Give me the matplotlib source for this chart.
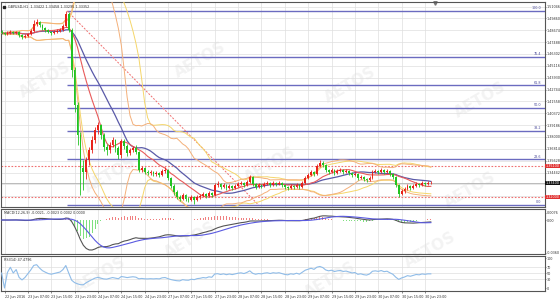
import numpy as np
import pandas as pd
import matplotlib
matplotlib.use("Agg")
import matplotlib.pyplot as plt
import matplotlib.transforms as mtransforms

# ---------------- data (GBPUSD H1) ----------------
first_open = 1.485
closes = [1.484, 1.483, 1.484, 1.485, 1.484, 1.485, 1.482, 1.480, 1.481, 1.483,
          1.486, 1.493, 1.495, 1.492, 1.489, 1.487, 1.485, 1.484, 1.485, 1.486,
          1.487, 1.491, 1.503, 1.487, 1.447, 1.412, 1.382, 1.349, 1.345, 1.357,
          1.367, 1.377, 1.387, 1.392, 1.382, 1.370, 1.367, 1.372, 1.377, 1.369,
          1.362, 1.376, 1.371, 1.364, 1.367, 1.369, 1.365, 1.347, 1.349, 1.345,
          1.344, 1.345, 1.343, 1.344, 1.342, 1.346, 1.347, 1.339, 1.331, 1.325,
          1.320, 1.318, 1.322, 1.318, 1.317, 1.320, 1.317, 1.320, 1.321, 1.323,
          1.321, 1.324, 1.322, 1.332, 1.333, 1.330, 1.332, 1.329, 1.331, 1.329,
          1.331, 1.333, 1.334, 1.332, 1.335, 1.340, 1.333, 1.330, 1.332, 1.331,
          1.333, 1.334, 1.332, 1.334, 1.333, 1.334, 1.332, 1.330, 1.329, 1.331,
          1.330, 1.332, 1.330, 1.334, 1.339, 1.342, 1.345, 1.343, 1.351, 1.354,
          1.352, 1.347, 1.345, 1.347, 1.344, 1.346, 1.347, 1.345, 1.346, 1.344,
          1.342, 1.343, 1.339, 1.340, 1.338, 1.337, 1.339, 1.345, 1.346, 1.345,
          1.347, 1.345, 1.346, 1.343, 1.340, 1.332, 1.323, 1.326, 1.328, 1.331,
          1.329, 1.331, 1.333, 1.332, 1.334, 1.333, 1.334, 1.334]
highs = [1.487, 1.485, 1.486, 1.487, 1.486, 1.486, 1.486, 1.483, 1.483, 1.484,
         1.488, 1.497, 1.498, 1.496, 1.493, 1.490, 1.488, 1.486, 1.487, 1.488,
         1.489, 1.493, 1.506, 1.505, 1.489, 1.450, 1.415, 1.385, 1.357, 1.360,
         1.370, 1.381, 1.390, 1.395, 1.393, 1.384, 1.373, 1.375, 1.380, 1.378,
         1.371, 1.378, 1.378, 1.373, 1.369, 1.371, 1.372, 1.366, 1.351, 1.350,
         1.347, 1.347, 1.346, 1.346, 1.345, 1.348, 1.350, 1.348, 1.340, 1.333,
         1.327, 1.322, 1.324, 1.323, 1.320, 1.322, 1.321, 1.322, 1.323, 1.325,
         1.324, 1.326, 1.325, 1.334, 1.336, 1.334, 1.334, 1.333, 1.333, 1.332,
         1.333, 1.335, 1.336, 1.335, 1.337, 1.342, 1.341, 1.334, 1.334, 1.333,
         1.335, 1.336, 1.335, 1.336, 1.335, 1.336, 1.335, 1.333, 1.331, 1.333,
         1.332, 1.334, 1.333, 1.336, 1.341, 1.344, 1.347, 1.346, 1.353, 1.357,
         1.356, 1.353, 1.348, 1.349, 1.348, 1.348, 1.349, 1.348, 1.348, 1.347,
         1.345, 1.345, 1.344, 1.342, 1.341, 1.339, 1.341, 1.347, 1.348, 1.347,
         1.349, 1.348, 1.348, 1.347, 1.344, 1.341, 1.333, 1.328, 1.330, 1.333,
         1.332, 1.333, 1.335, 1.334, 1.336, 1.335, 1.336, 1.336]
lows = [1.483, 1.482, 1.482, 1.483, 1.483, 1.483, 1.480, 1.478, 1.479, 1.480,
        1.482, 1.485, 1.491, 1.490, 1.487, 1.485, 1.484, 1.482, 1.483, 1.484,
        1.485, 1.486, 1.490, 1.485, 1.440, 1.405, 1.372, 1.322, 1.327, 1.338,
        1.352, 1.364, 1.374, 1.383, 1.378, 1.366, 1.362, 1.364, 1.370, 1.365,
        1.358, 1.359, 1.368, 1.361, 1.362, 1.365, 1.363, 1.345, 1.345, 1.343,
        1.342, 1.342, 1.341, 1.341, 1.340, 1.341, 1.344, 1.337, 1.329, 1.322,
        1.318, 1.316, 1.317, 1.316, 1.315, 1.316, 1.313, 1.316, 1.318, 1.320,
        1.319, 1.320, 1.320, 1.321, 1.330, 1.328, 1.329, 1.327, 1.328, 1.327,
        1.328, 1.330, 1.332, 1.330, 1.331, 1.334, 1.331, 1.328, 1.329, 1.329,
        1.330, 1.332, 1.330, 1.331, 1.331, 1.332, 1.330, 1.328, 1.327, 1.328,
        1.328, 1.329, 1.328, 1.329, 1.333, 1.338, 1.341, 1.341, 1.342, 1.350,
        1.350, 1.345, 1.343, 1.344, 1.342, 1.343, 1.345, 1.343, 1.344, 1.342,
        1.340, 1.341, 1.337, 1.338, 1.336, 1.335, 1.336, 1.338, 1.344, 1.343,
        1.344, 1.343, 1.344, 1.341, 1.338, 1.330, 1.320, 1.322, 1.324, 1.327,
        1.327, 1.328, 1.330, 1.330, 1.331, 1.331, 1.332, 1.333]

time_labels = ["22 Jun 2016", "23 Jun 07:00", "23 Jun 15:00", "23 Jun 23:00",
               "24 Jun 07:00", "24 Jun 15:00", "24 Jun 23:00", "27 Jun 07:00",
               "27 Jun 15:00", "27 Jun 23:00", "28 Jun 07:00", "28 Jun 15:00",
               "28 Jun 23:00", "29 Jun 07:00", "29 Jun 15:00", "29 Jun 23:00",
               "30 Jun 07:00", "30 Jun 15:00", "30 Jun 23:00"]
label_first_bar = 1
label_step = 8

fib_high = 1.506
fib_low = 1.312
fib_ratios = [1.0, 0.764, 0.618, 0.5, 0.382, 0.236, 0.0]
fib_names = ["100.0", "76.4", "61.8", "50.0", "38.2", "23.6", "0.0"]
fib_start_bar = 22.5
fib_end_bar = 88.0

sr_levels = [1.351, 1.320]
price_axis_labels = [1.51046, 1.49860, 1.48674, 1.47488, 1.46302, 1.45116, 1.43930,
                     1.42744, 1.41558, 1.40372, 1.39186, 1.38000, 1.36814, 1.35628,
                     1.34442, 1.33256, 1.32070]

title_text = "GBPUSD,H1  1.33422 1.33458 1.33295 1.33352"
macd_text = "MACD(12,26,9) -0.0021, -0.0023 0.0002 0.0000"
rsi_text = "RSI(14) 47.4796"

# ---------------- derived series ----------------
c = pd.Series(closes)
opens = np.array([first_open] + closes[:-1])
cl = np.array(closes)
hi = np.array(highs)
lo = np.array(lows)
n = len(cl)
idx = np.arange(n)

ma_fast = c.rolling(12, min_periods=1).mean()
ma_slow = c.rolling(20, min_periods=1).mean()
sd20 = c.rolling(20, min_periods=1).std(ddof=0)
bb_up = ma_slow + 2 * sd20
bb_dn = ma_slow - 2 * sd20
ma_b2 = c.rolling(26, min_periods=1).mean()
sd_b2 = c.rolling(26, min_periods=1).std(ddof=0)
bb2_up = ma_b2 + 2 * sd_b2
bb2_dn = ma_b2 - 2 * sd_b2

ema12 = c.ewm(span=12, adjust=False).mean()
ema26 = c.ewm(span=26, adjust=False).mean()
macd = ema12 - ema26
signal = macd.rolling(9, min_periods=1).mean()
hist = macd - signal

delta = c.diff().fillna(0)
gain = delta.clip(lower=0).ewm(alpha=1/14, adjust=False).mean()
loss = (-delta.clip(upper=0)).ewm(alpha=1/14, adjust=False).mean()
rsi = 100 - 100 / (1 + gain / loss.replace(0, np.nan))
rsi = rsi.fillna(50)

# ---------------- figure layout (pixel based) ----------------
W, H = 560, 300
fig = plt.figure(figsize=(W / 100, H / 100), dpi=100)
fig.patch.set_facecolor("white")


def rect(x0, y0, x1, y1):
    return [x0 / W, 1 - y1 / H, (x1 - x0) / W, (y1 - y0) / H]


ax = fig.add_axes(rect(1, 2, 545, 207))
axm = fig.add_axes(rect(1, 209, 545, 254), sharex=ax)
axr = fig.add_axes(rect(1, 256, 545, 291), sharex=ax)

xmax = -0.2 + 544 / 2.92
GRID = "#dedede"
TXT = "#333333"
FS = 2.4

a_labels = [label_first_bar + k * label_step for k in range(len(time_labels))]
for a in (ax, axm, axr):
    a.set_facecolor("none")
    for s in a.spines.values():
        s.set_color("#555555")
        s.set_linewidth(0.8)
    a.yaxis.tick_right()
    a.tick_params(axis="y", length=1.0, width=0.4, labelsize=FS, colors=TXT, pad=0.5)
    a.tick_params(axis="x", length=0, labelsize=FS, colors=TXT)
    for b in a_labels:
        a.axvline(b, color=GRID, lw=0.5, zorder=0)
ax.set_xlim(-0.2, xmax)

# watermarks
wm_pos = [(45, 80), (200, 60), (350, 85), (480, 100), (110, 175), (270, 165),
          (470, 190), (190, 240), (430, 250), (100, 275), (330, 280)]
for (px, py) in wm_pos:
    fig.text(px / W, 1 - py / H, "AETOS", rotation=30, fontsize=11, color="#f3f3f3",
             ha="center", va="center", fontweight="bold", zorder=-1)

# ---------------- main panel ----------------
ax.set_ylim(1.310, 1.515)
box_levels = sr_levels + [cl[-1]]
ax.set_yticks(price_axis_labels)
ax.set_yticklabels([("" if min(abs(v - b) for b in box_levels) < 0.0045 else f"{v:.5f}")
                    for v in price_axis_labels])
for v in price_axis_labels:
    ax.axhline(v, color=GRID, lw=0.5, zorder=0)
ax.tick_params(axis="x", labelbottom=False)

# fibonacci levels + trend line
for r, name in zip(fib_ratios, fib_names):
    lvl = fib_low + r * (fib_high - fib_low)
    ax.hlines(lvl, fib_start_bar, xmax, color="#6b6bc0", lw=1.0, zorder=2)
    ax.text(xmax - 1.2, lvl + 0.0006, name, fontsize=FS, color="#4a4a9a",
            ha="right", va="bottom", zorder=3)
ax.plot([fib_start_bar, fib_end_bar], [fib_high, fib_low], color="#f07070", lw=0.7,
        ls=(0, (2, 1.5)), zorder=3)

# support / resistance dotted lines
for lvl in sr_levels:
    ax.axhline(lvl, color="#f07070", lw=0.8, ls=(0, (1.5, 1.5)), zorder=2)
ax.axhline(cl[-1], color="#b0b0b0", lw=0.6, zorder=2)

# bollinger / moving averages
ax.plot(idx, bb2_up, color="#f5d66a", lw=0.7, zorder=3)
ax.plot(idx, bb2_dn, color="#f5d66a", lw=0.7, zorder=3)
ax.plot(idx, bb_up, color="#f4b07a", lw=0.7, zorder=3)
ax.plot(idx, bb_dn, color="#f4b07a", lw=0.7, zorder=3)
ax.plot(idx, ma_slow, color="#5a5aa8", lw=0.9, zorder=4)
ax.plot(idx, ma_fast, color="#e85a5a", lw=0.8, zorder=4)

# candles
up = cl >= opens
col = np.where(up, "#e8231b", "#22c322")
ax.vlines(idx, lo, hi, colors=col, lw=0.6, zorder=5)
body_lo = np.minimum(opens, cl)
body_h = np.maximum(np.abs(cl - opens), 0.0004)
ax.bar(idx, body_h, bottom=body_lo, width=0.62, color=col, linewidth=0, zorder=6)

# price boxes on axis
trans = mtransforms.blended_transform_factory(ax.transAxes, ax.transData)
for lvl in sr_levels:
    ax.text(1.0015, lvl, f"{lvl:.5f}", transform=trans, fontsize=FS, color="white",
            va="center", ha="left", clip_on=False, zorder=10,
            bbox=dict(boxstyle="square,pad=0.1", fc="#e03030", ec="none"))
ax.text(1.0015, cl[-1], f"{cl[-1]:.5f}", transform=trans, fontsize=FS, color="white",
        va="center", ha="left", clip_on=False, zorder=10,
        bbox=dict(boxstyle="square,pad=0.1", fc="#111111", ec="none"))

ax.text(0.012, 0.985, title_text, transform=ax.transAxes, fontsize=FS, color=TXT,
        va="top", ha="left")
ax.plot([0.006], [0.975], transform=ax.transAxes, marker="s", ms=1.8, color="#222222",
        clip_on=False)
ax.plot([(435 - 1) / 544], [0.993], transform=ax.transAxes, marker="v", ms=2.5,
        color="#777777", clip_on=False)

# ---------------- MACD panel ----------------
s = -macd.min() / 30.0
axm.set_ylim(-34 * s, 11 * s)
mt = [7 * s, 0.0, -33 * s]
axm.set_yticks(mt)
axm.set_yticklabels([f"{mt[0]:.4f}", "0.00", f"{mt[2]:.4f}"])
hcol = np.where(hist.values >= 0, "#f08080", "#7fe07f")
axm.bar(idx, hist.values, width=0.35, color=hcol, linewidth=0, zorder=2)
axm.plot(idx, macd, color="#555555", lw=0.8, zorder=3)
axm.plot(idx, signal, color="#5a5ae0", lw=0.8, zorder=3)
axm.tick_params(axis="x", labelbottom=False)
axm.text(0.006, 0.95, macd_text, transform=axm.transAxes, fontsize=FS, color=TXT,
         va="top", ha="left")

# ---------------- RSI panel ----------------
axr.set_ylim(-10, 106.7)
axr.set_yticks([100, 70, 50, 30, 0])
axr.set_yticklabels(["100", "70", "50", "30", "0"])
for lv in (70, 50, 30):
    axr.axhline(lv, color=GRID, lw=0.5, zorder=0)
axr.plot(idx, rsi, color="#8fbce8", lw=0.8, zorder=3)
axr.text(0.006, 0.95, rsi_text, transform=axr.transAxes, fontsize=FS, color=TXT,
         va="top", ha="left")
axr.set_xticks(a_labels)
axr.set_xticklabels(time_labels, ha="left")
axr.tick_params(axis="x", length=1.5, width=0.4, pad=1.2, labelsize=2.4)

fig.savefig("out.png", dpi=100, facecolor="white")
